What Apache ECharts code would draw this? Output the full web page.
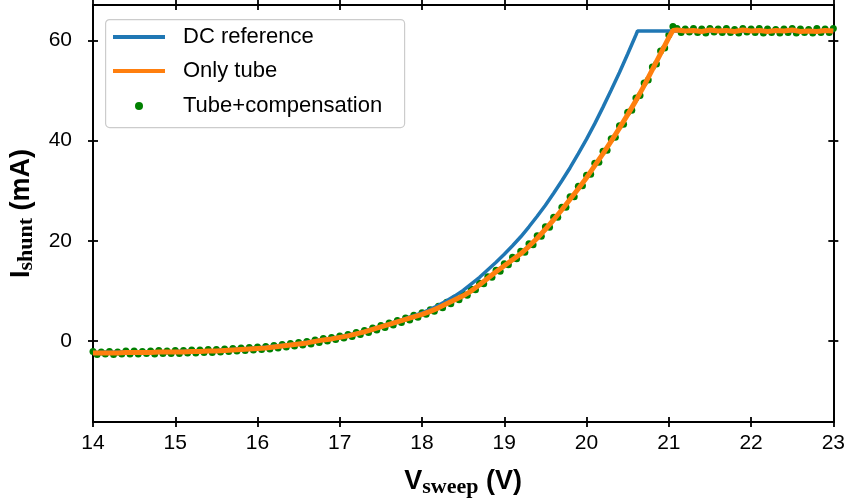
<!DOCTYPE html>
<html>
<head>
<meta charset="utf-8">
<script src="https://cdn.jsdelivr.net/npm/echarts@6/dist/echarts.min.js"></script>
<style>
html,body{margin:0;padding:0;background:#fff;}
#chart{width:848px;height:503px;}
</style>
</head>
<body>
<div id="chart"></div>
<script>
// ---- data ----
const dcV = [14.0,14.5,15.0,15.5,16.0,16.5,17.0,17.25,17.5,17.75,18.0,18.1,18.2,18.3,18.4,18.5,18.6,18.7,18.8,18.9,19.0,19.1,19.2,19.3,19.4,19.5,19.6,19.7,19.8,19.9,20.0,20.1,20.2,20.3,20.4,20.5,20.6,20.62,23.0];
const dcI = [-2.3,-2.2,-2.1,-1.9,-1.4,-0.5,0.8,1.7,2.9,4.2,5.6,6.3,7.1,8.0,9.0,10.1,11.4,12.7,14.2,15.7,17.3,19.0,20.8,22.8,24.9,27.1,29.5,32.0,34.6,37.4,40.3,43.4,46.7,50.1,53.6,57.3,61.1,61.9,61.9];

const tubeV = [14.0,14.1,14.2,14.3,14.4,14.5,14.6,14.7,14.8,14.9,15.0,15.1,15.2,15.3,15.4,15.5,15.6,15.7,15.8,15.9,16.0,16.1,16.2,16.3,16.4,16.5,16.6,16.7,16.8,16.9,17.0,17.1,17.2,17.3,17.4,17.5,17.6,17.7,17.8,17.9,18.0,18.1,18.2,18.3,18.4,18.5,18.6,18.7,18.8,18.9,19.0,19.1,19.2,19.3,19.4,19.5,19.6,19.7,19.8,19.9,20.0,20.1,20.2,20.3,20.4,20.5,20.6,20.7,20.8,20.9,21.0,21.05,21.1,21.2,21.3,21.4,21.5,21.6,21.7,21.8,21.9,22.0,22.1,22.2,22.3,22.4,22.5,22.6,22.7,22.8,22.9,23.0];
const tubeI = [-2.4,-2.4,-2.4,-2.4,-2.3,-2.3,-2.3,-2.3,-2.2,-2.2,-2.2,-2.2,-2.1,-2.1,-2.0,-2.0,-1.9,-1.8,-1.7,-1.6,-1.5,-1.4,-1.2,-1.0,-0.8,-0.6,-0.4,-0.1,0.2,0.4,0.7,1.0,1.4,1.8,2.3,2.8,3.3,3.8,4.3,4.8,5.3,5.9,6.6,7.4,8.2,9.0,10.0,11.2,12.5,13.8,15.0,16.2,17.4,18.9,20.5,22.3,24.2,26.2,28.3,30.4,32.6,35.0,37.4,39.9,42.5,45.2,48.0,51.0,54.2,57.4,60.6,62.0,62.1,61.9,62.0,61.8,62.1,61.9,62.0,61.8,62.1,61.9,62.0,61.8,62.0,61.9,62.1,61.8,61.9,61.8,62.0,61.9];

// Tube+compensation samples [V, mA]
const compData = [
[14.00,-2.1],[14.05,-2.7],[14.10,-2.2],[14.15,-2.6],[14.20,-2.1],[14.25,-2.7],[14.30,-2.2],[14.35,-2.6],[14.40,-2.0],[14.45,-2.6],
[14.50,-2.0],[14.55,-2.6],[14.60,-2.1],[14.65,-2.5],[14.70,-2.0],[14.75,-2.6],[14.80,-1.9],[14.85,-2.5],[14.90,-2.0],[14.95,-2.5],
[15.00,-1.9],[15.05,-2.5],[15.10,-1.9],[15.15,-2.4],[15.20,-1.8],[15.25,-2.4],[15.30,-1.8],[15.35,-2.3],[15.40,-1.7],[15.45,-2.3],
[15.50,-1.7],[15.55,-2.2],[15.60,-1.6],[15.65,-2.1],[15.70,-1.5],[15.75,-2.0],[15.80,-1.4],[15.85,-1.9],[15.90,-1.3],[15.95,-1.8],
[16.00,-1.2],[16.05,-1.7],[16.10,-1.1],[16.15,-1.6],[16.20,-0.9],[16.25,-1.4],[16.30,-0.7],[16.35,-1.2],[16.40,-0.5],[16.45,-1.0],
[16.50,-0.3],[16.55,-0.8],[16.60,-0.1],[16.65,-0.6],[16.70,0.2],[16.75,-0.3],[16.80,0.5],[16.85,0.0],[16.90,0.7],[16.95,0.3],
[17.00,1.0],[17.05,0.6],[17.10,1.3],[17.15,0.9],[17.20,1.7],[17.25,1.3],[17.30,2.1],[17.35,1.7],[17.40,2.6],[17.45,2.2],
[17.50,3.1],[17.55,2.7],[17.60,3.6],[17.65,3.2],[17.70,4.1],[17.75,3.7],[17.80,4.6],[17.85,4.2],[17.90,5.1],[17.95,4.7],
[18.00,5.6],[18.05,5.3],[18.10,6.2],[18.15,5.9],[18.20,6.9],[18.25,6.6],[18.30,7.7],[18.35,7.4],[18.40,8.5],[18.45,8.2],
[18.50,9.3],[18.55,9.1],[18.60,10.3],[18.65,10.2],[18.70,11.5],[18.75,11.4],[18.80,12.8],[18.85,12.7],[18.90,14.1],[18.95,13.9],
[19.00,15.4],[19.05,15.2],[19.10,16.7],[19.15,16.4],[19.20,17.9],[19.25,17.7],[19.30,19.4],[19.35,19.2],[19.40,21.0],[19.45,20.9],
[19.50,22.8],[19.55,22.7],[19.60,24.7],[19.65,24.7],[19.70,26.7],[19.75,26.7],[19.80,28.8],[19.85,28.8],[19.90,30.9],[19.95,31.0],
[20.00,33.1],[20.05,33.3],[20.10,35.5],[20.15,35.7],[20.20,37.9],[20.25,38.1],[20.30,40.4],[20.35,40.7],[20.40,43.0],[20.45,43.3],
[20.50,45.7],[20.55,46.1],[20.60,48.5],[20.65,49.0],[20.70,51.5],[20.75,52.1],[20.80,54.7],[20.85,55.3],[20.90,57.9],[20.95,58.5],
[21.00,61.1],[21.05,62.8],[21.10,62.4],[21.15,61.6],[21.20,62.3],[21.25,61.7],[21.30,62.4],[21.35,61.6],[21.40,62.3],[21.45,61.5],
[21.50,62.4],[21.55,61.7],[21.60,62.3],[21.65,61.6],[21.70,62.4],[21.75,61.6],[21.80,62.2],[21.85,61.5],[21.90,62.4],[21.95,61.7],
[22.00,62.3],[22.05,61.6],[22.10,62.4],[22.15,61.5],[22.20,62.3],[22.25,61.6],[22.30,62.2],[22.35,61.5],[22.40,62.3],[22.45,61.6],
[22.50,62.4],[22.55,61.5],[22.60,62.3],[22.65,61.6],[22.70,62.2],[22.75,61.5],[22.80,62.4],[22.85,61.6],[22.90,62.3],[22.95,61.6],
[23.00,62.4]
];

const xMin = 14, xMax = 23, xStep = 1;
const yMin = -16.2, yMax = 67.1;
const yTickValues = [0, 20, 40, 60];
const legendNames = ['DC reference', 'Only tube', 'Tube+compensation'];

// ---- chart ----
const pairs = (xs, ys) => xs.map((x, i) => [x, ys[i]]);
const SANS = 'Liberation Sans, Arial, Helvetica, sans-serif';
const SERIF = 'Liberation Serif, Times New Roman, serif';
const black = '#000';
const nameRich = {
  b: {fontSize: 27, fontWeight: 'bold', fontFamily: SANS, color: black, lineHeight: 32, verticalAlign: 'middle'},
  s: {fontSize: 22, fontWeight: 'bold', fontFamily: SERIF, color: black, lineHeight: 18, verticalAlign: 'bottom'}
};

function xAx(pos, inside, labels) {
  const a = {
    type: 'value', position: pos, min: xMin, max: xMax, interval: xStep,
    axisLine: {show: true, onZero: false, lineStyle: {color: black, width: 1.8}},
    axisTick: {show: true, inside: inside, length: 5, lineStyle: {color: black, width: 1.8}},
    axisLabel: {show: labels, fontSize: 21, color: black, fontFamily: SANS, margin: 11},
    splitLine: {show: false}
  };
  if (labels) {
    a.name = '{b|V}{s|sweep}{b| (V)}';
    a.nameLocation = 'middle';
    a.nameGap = 44;
    a.nameTextStyle = {rich: nameRich};
  }
  return a;
}
function yAx(pos, inside, labels) {
  const a = {
    type: 'value', position: pos, min: yMin, max: yMax,
    axisLine: {show: true, onZero: false, lineStyle: {color: black, width: 1.8}},
    axisTick: {show: true, inside: inside, length: 5, customValues: yTickValues, lineStyle: {color: black, width: 1.8}},
    axisLabel: {show: labels, fontSize: 21, color: black, fontFamily: SANS, margin: 21, customValues: yTickValues},
    splitLine: {show: false}
  };
  if (labels) {
    a.name = '{b|I}{s|shunt}{b| (mA)}';
    a.nameLocation = 'middle';
    a.nameRotate = 90;
    a.nameGap = 52;
    a.nameTextStyle = {rich: nameRich};
  }
  return a;
}

const chart = echarts.init(document.getElementById('chart'), null, {renderer: 'canvas'});
chart.setOption({
  animation: false,
  backgroundColor: '#fff',
  grid: {left: 93, right: 14, top: 5, bottom: 78, containLabel: false},
  xAxis: [xAx('bottom', false, true), xAx('bottom', true, false), xAx('top', false, false), xAx('top', true, false)],
  yAxis: [yAx('left', false, true), yAx('left', true, false), yAx('right', false, false), yAx('right', true, false)],
  legend: [
    {
      data: [{name: legendNames[0], icon: 'rect'}, {name: legendNames[1], icon: 'rect'}],
      orient: 'vertical', left: 113, top: 25, itemWidth: 52, itemHeight: 4, itemGap: 10,
      padding: 0, z: 20, selectedMode: false,
      textStyle: {fontSize: 22, color: black, fontFamily: SANS, lineHeight: 24, padding: [0, 0, 0, 13]}
    },
    {
      data: [{name: legendNames[2], icon: 'circle'}],
      orient: 'vertical', left: 135, top: 94, itemWidth: 52, itemHeight: 8,
      padding: 0, z: 20, selectedMode: false,
      textStyle: {fontSize: 22, color: black, fontFamily: SANS, lineHeight: 24, padding: [0, 0, 0, 13]}
    }
  ],
  graphic: [{
    type: 'rect', left: 105, top: 19, z: 15,
    shape: {width: 299, height: 108, r: 4},
    style: {fill: 'rgba(255,255,255,0.8)', stroke: '#cccccc', lineWidth: 1.2}
  }],
  series: [
    {
      name: legendNames[2], type: 'scatter', xAxisIndex: 0, yAxisIndex: 0,
      data: compData, symbol: 'circle', symbolSize: 7,
      itemStyle: {color: '#008000', opacity: 1}, z: 2
    },
    {
      name: legendNames[0], type: 'line', xAxisIndex: 0, yAxisIndex: 0,
      data: pairs(dcV, dcI), showSymbol: false, symbol: 'none',
      lineStyle: {color: '#1f77b4', width: 3.5}, itemStyle: {color: '#1f77b4'}, z: 3
    },
    {
      name: legendNames[1], type: 'line', xAxisIndex: 0, yAxisIndex: 0,
      data: pairs(tubeV, tubeI), showSymbol: false, symbol: 'none',
      lineStyle: {color: '#ff7f0e', width: 5}, itemStyle: {color: '#ff7f0e'}, z: 4
    }
  ]
});
</script>
</body>
</html>
